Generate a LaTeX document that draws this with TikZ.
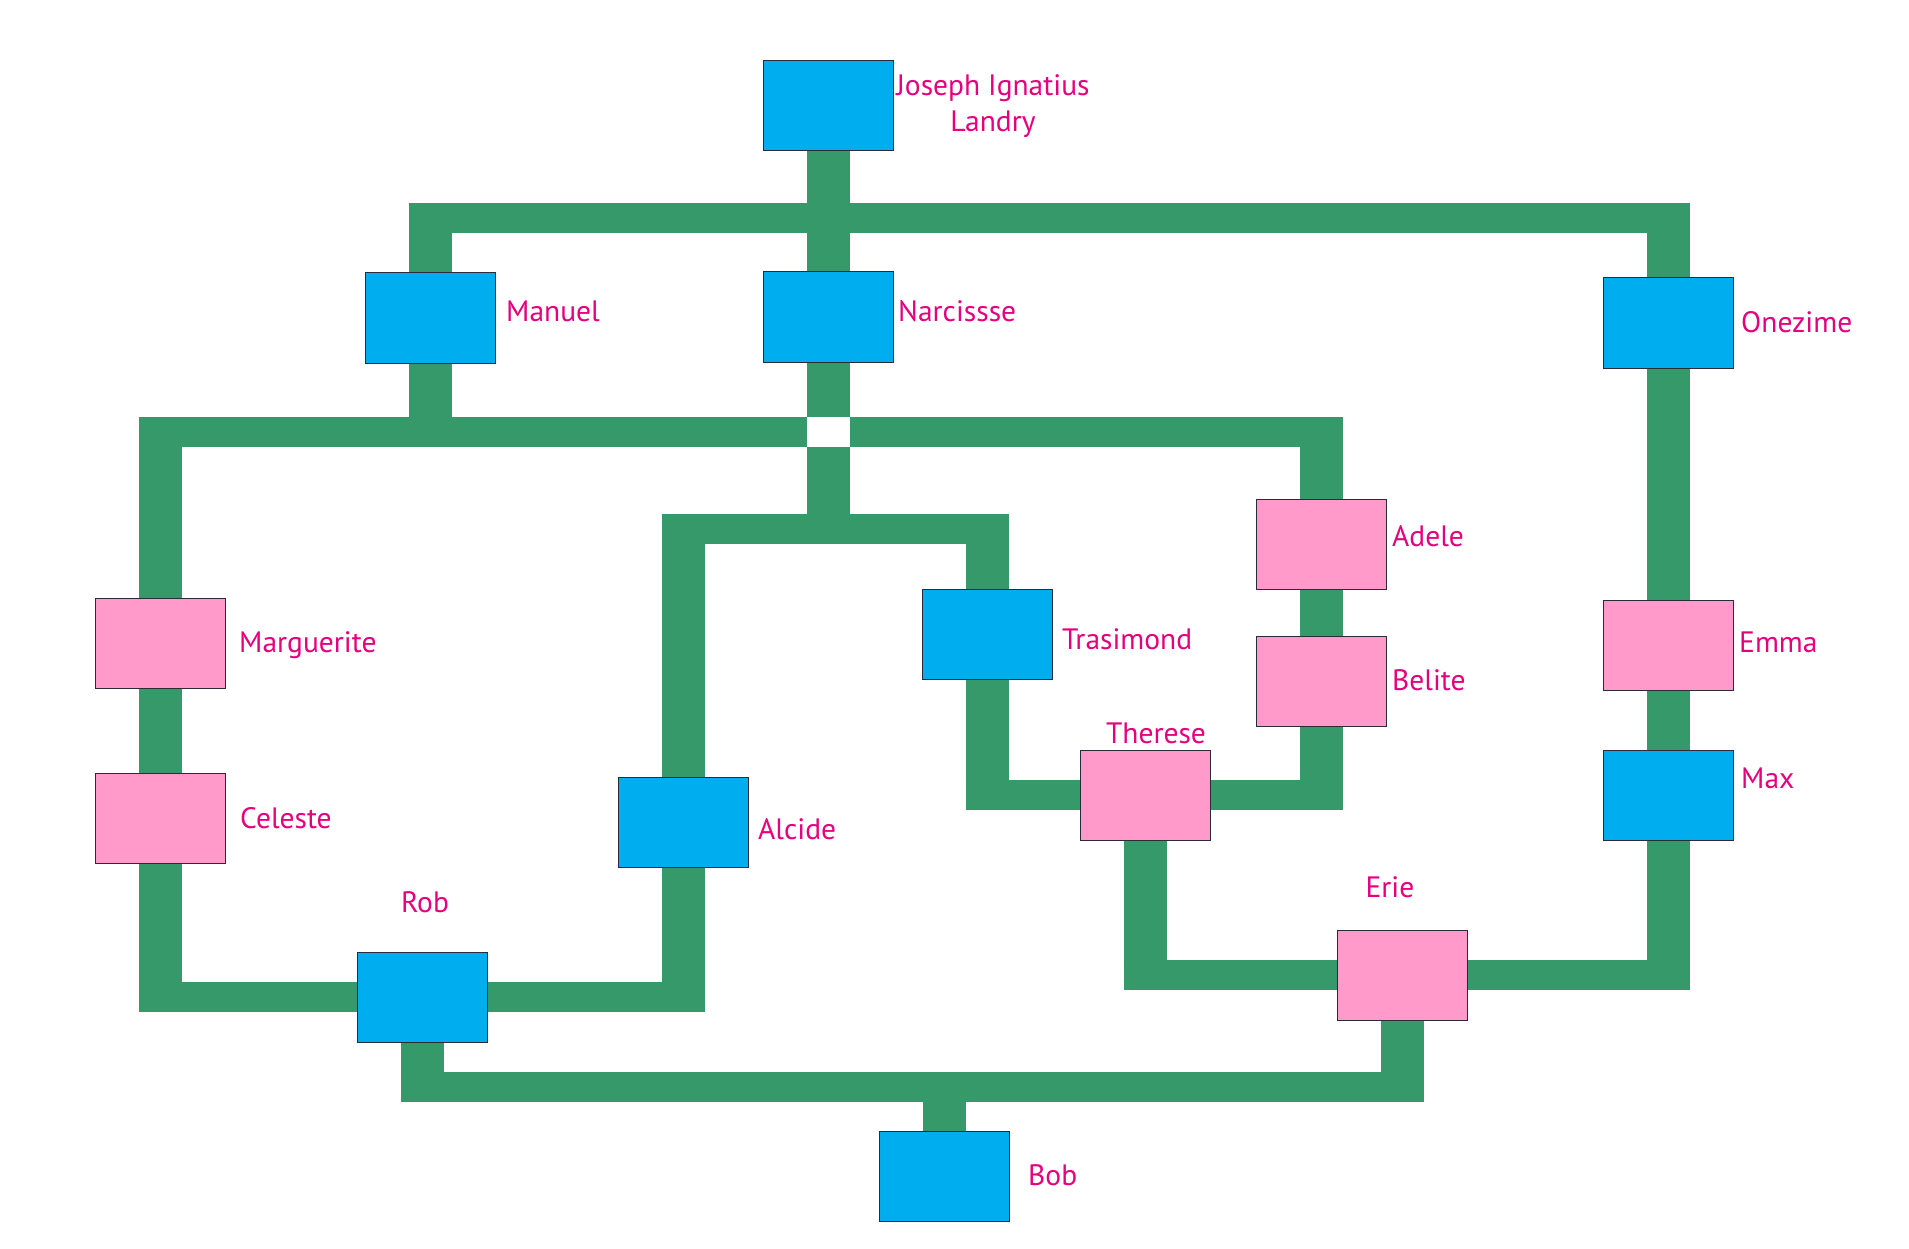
\documentclass[tikz,border=0pt]{standalone}
\usepackage{fontspec}
\setmainfont{PT Sans}
\usetikzlibrary{backgrounds}
\definecolor{boxblue}{HTML}{00AEEF}
\definecolor{boxpink}{HTML}{FF9ACB}
\definecolor{bargreen}{HTML}{36996A}
\definecolor{lblmag}{HTML}{E5007D}
\definecolor{edgedark}{HTML}{2A2A3A}
\begin{document}
\begin{tikzpicture}[x=1pt,y=-1pt,
  person/.style={draw=edgedark, line width=1pt, minimum width=130pt, minimum height=90pt, inner sep=0pt, outer sep=0pt},
  male/.style={person, fill=boxblue},
  female/.style={person, fill=boxpink},
  lbl/.style={text=lblmag, font=\fontsize{29.5}{36}\selectfont, inner sep=0pt},
  vbar/.style={draw=bargreen, line width=43pt},
  hbar/.style={draw=bargreen, line width=30pt}]
\useasboundingbox (0,0) rectangle (1909,1249);
% people
\node[male] (Joseph) at (828,106) {};
\node[male] (Manuel) at (430,318) {};
\node[male] (Narcissse) at (828,317) {};
\node[male] (Onezime) at (1668,323) {};
\node[female] (Marguerite) at (160,643) {};
\node[female] (Celeste) at (160,818) {};
\node[female] (Adele) at (1321,544) {};
\node[female] (Belite) at (1321,681) {};
\node[male] (Trasimond) at (987,634) {};
\node[female] (Therese) at (1145,795) {};
\node[female] (Emma) at (1668,645) {};
\node[male] (Max) at (1668,795) {};
\node[male] (Alcide) at (683,822) {};
\node[male] (Rob) at (422,997) {};
\node[female] (Erie) at (1402,975) {};
\node[male] (Bob) at (944,1176) {};
% labels
\node[lbl, anchor=north, align=center] (tJoseph) at (993,74) {Joseph Ignatius\\Landry};
\node[lbl, anchor=base west] (tManuel) at (506,322) {Manuel};
\node[lbl, anchor=base west] (tNarcissse) at (898,322) {Narcissse};
\node[lbl, anchor=base west] (tOnezime) at (1741,333) {Onezime};
\node[lbl, anchor=base west] (tMarguerite) at (239,652) {Marguerite};
\node[lbl, anchor=base west] (tCeleste) at (240,828) {Celeste};
\node[lbl, anchor=base west] (tAdele) at (1392,546) {Adele};
\node[lbl, anchor=base west] (tBelite) at (1392,690) {Belite};
\node[lbl, anchor=base west] (tTrasimond) at (1062,649) {Trasimond};
\node[lbl, anchor=base] (tTherese) at (1156,743) {Therese};
\node[lbl, anchor=base west] (tEmma) at (1739,652) {Emma};
\node[lbl, anchor=base west] (tMax) at (1741,788) {Max};
\node[lbl, anchor=base west] (tAlcide) at (758,839) {Alcide};
\node[lbl, anchor=base] (tRob) at (425,912) {Rob};
\node[lbl, anchor=base] (tErie) at (1390,897) {Erie};
\node[lbl, anchor=base west] (tBob) at (1028,1185) {Bob};
% junction points
\coordinate (topL) at (430,218);
\coordinate (topR) at (1668,218);
\coordinate (secL) at (160,432);
\coordinate (secM) at (430,432);
\coordinate (secR) at (1321,432);
\coordinate (thrL) at (683,529);
\coordinate (thrM) at (828,529);
\coordinate (thrR) at (987,529);
\coordinate (trT) at (987,795);
\coordinate (beT) at (1321,795);
\coordinate (ceR) at (160,997);
\coordinate (alR) at (683,997);
\coordinate (thE) at (1145,975);
\coordinate (maE) at (1668,975);
\coordinate (botL) at (422,1087);
\coordinate (botR) at (1402,1087);
\coordinate (botM) at (944,1087);
\begin{scope}[on background layer]
\fill[white] (0,0) rectangle (1909,1249);
\draw[vbar] (Joseph.south) -- (Narcissse.north);
\draw[hbar] ([xshift=-21.5pt]topL) -- ([xshift=21.5pt]topR);
\draw[vbar] ([yshift=15pt]topL) -- (Manuel.north);
\draw[vbar] ([yshift=15pt]topR) -- (Onezime.north);
\draw[hbar] ([xshift=-21.5pt]secL) -- ([xshift=21.5pt]secR);
\draw[vbar] ([yshift=15pt]secL) -- (Marguerite.north);
\draw[vbar] ([yshift=15pt]secR) -- (Adele.north);
\draw[vbar] (Manuel.south) -- (secM);
\draw[vbar] (Narcissse.south) -- (thrM);
\fill[white] (806.5,417) rectangle (849.5,447);
\draw[hbar] ([xshift=-21.5pt]thrL) -- ([xshift=21.5pt]thrR);
\draw[vbar] ([yshift=15pt]thrL) -- (Alcide.north);
\draw[vbar] ([yshift=15pt]thrR) -- (Trasimond.north);
\draw[vbar] (Marguerite.south) -- (Celeste.north);
\draw[vbar] (Adele.south) -- (Belite.north);
\draw[vbar] (Onezime.south) -- (Emma.north);
\draw[vbar] (Emma.south) -- (Max.north);
\draw[vbar] (Trasimond.south) -- ([yshift=-15pt]trT);
\draw[hbar] ([xshift=-21.5pt]trT) -- (Therese.west);
\draw[vbar] (Belite.south) -- ([yshift=-15pt]beT);
\draw[hbar] ([xshift=21.5pt]beT) -- (Therese.east);
\draw[vbar] (Celeste.south) -- ([yshift=-15pt]ceR);
\draw[hbar] ([xshift=-21.5pt]ceR) -- (Rob.west);
\draw[vbar] (Alcide.south) -- ([yshift=-15pt]alR);
\draw[hbar] ([xshift=21.5pt]alR) -- (Rob.east);
\draw[vbar] (Therese.south) -- ([yshift=-15pt]thE);
\draw[hbar] ([xshift=-21.5pt]thE) -- (Erie.west);
\draw[vbar] (Max.south) -- ([yshift=-15pt]maE);
\draw[hbar] ([xshift=21.5pt]maE) -- (Erie.east);
\draw[vbar] (Rob.south) -- ([yshift=-15pt]botL);
\draw[vbar] (Erie.south) -- ([yshift=-15pt]botR);
\draw[hbar] ([xshift=-21.5pt]botL) -- ([xshift=21.5pt]botR);
\draw[vbar] (botM) -- (Bob.north);
\end{scope}
\end{tikzpicture}
\end{document}
